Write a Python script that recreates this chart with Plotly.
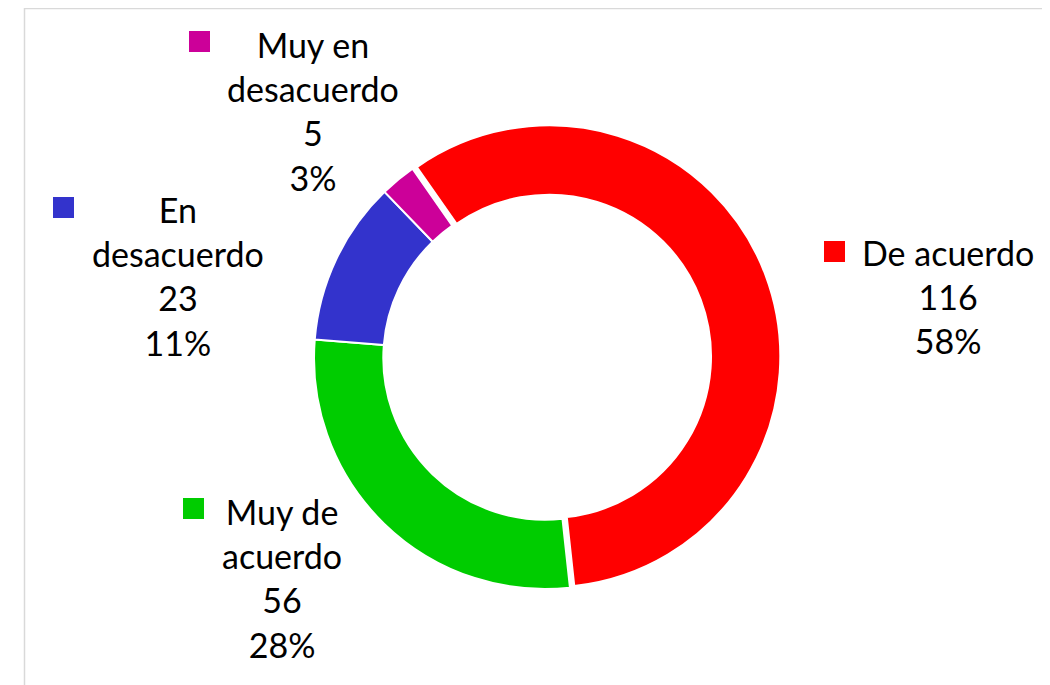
import plotly.graph_objects as go

# ---- data ----
categories = ["De acuerdo", "Muy de acuerdo", "En desacuerdo", "Muy en desacuerdo"]
label_lines = ["De acuerdo", "Muy de<br>acuerdo", "En<br>desacuerdo", "Muy en<br>desacuerdo"]
counts = [116, 56, 23, 5]
percents = ["58%", "28%", "11%", "3%"]
colors = ["#FF0000", "#00CC00", "#3333CC", "#CC0099"]
pulls = [0.02, 0, 0, 0]

W, H = 1050, 685
OFF = 8  # page body margin offset


def px_x(x):
    return (x - OFF) / W


def px_y(y):
    return 1 - (y - OFF) / H


fig = go.Figure()
fig.add_trace(go.Pie(
    labels=categories,
    values=counts,
    sort=False,
    direction="clockwise",
    rotation=325,
    hole=0.70,
    pull=pulls,
    marker=dict(colors=colors, line=dict(color="white", width=2)),
    textinfo="none",
    hoverinfo="label+value+percent",
    showlegend=False,
    domain=dict(x=[px_x(309.4), px_x(780.6)], y=[px_y(593.6), px_y(122.4)]),
))

# label layout (positions in pixels): text block centre, legend key box
label_pos = [
    dict(cx=948, cy=296.5, key=(824, 241)),
    dict(cx=282, cy=577.7, key=(183, 498)),
    dict(cx=177.5, cy=276.5, key=(53, 197)),
    dict(cx=313, cy=111, key=(189, 31)),
]
KEY = 21

annotations = []
shapes = []
for i, cat in enumerate(categories):
    p = label_pos[i]
    text = f"{label_lines[i]}<br>{counts[i]}<br>{percents[i]}"
    annotations.append(dict(
        x=px_x(p["cx"]), y=px_y(p["cy"]), xref="paper", yref="paper",
        text=text, showarrow=False, xanchor="center", yanchor="middle",
        align="center", font=dict(family="Lato", size=34, color="#000000"),
    ))
    kx, ky = p["key"]
    shapes.append(dict(
        type="rect", xref="paper", yref="paper",
        x0=px_x(kx), x1=px_x(kx + KEY), y0=px_y(ky + KEY), y1=px_y(ky),
        fillcolor=colors[i], line=dict(width=0),
    ))

# chart-area border
shapes.append(dict(
    type="rect", xref="paper", yref="paper",
    x0=px_x(24.5), x1=px_x(1044.5), y0=-0.05, y1=px_y(8.5),
    line=dict(color="#D9D9D9", width=1.5), fillcolor="rgba(0,0,0,0)",
))

fig.update_layout(
    width=W, height=H,
    margin=dict(l=0, r=0, t=0, b=0),
    paper_bgcolor="white",
    plot_bgcolor="white",
    annotations=annotations,
    shapes=shapes,
    font=dict(family="Lato"),
)

fig.write_html("out.html")
